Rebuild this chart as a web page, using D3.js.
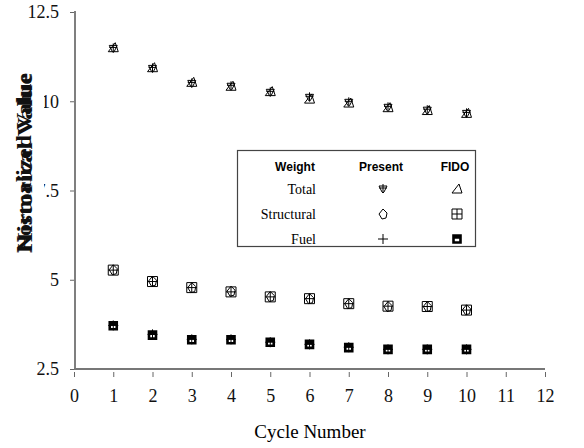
<!DOCTYPE html>
<html>
<head>
<meta charset="utf-8">
<script src="https://cdn.jsdelivr.net/npm/d3@7"></script>
<style>
body { margin: 0; background: #fff; }
svg { display: block; }
</style>
</head>
<body>
<svg></svg>
<script>
// data
const cycles = [1, 2, 3, 4, 5, 6, 7, 8, 9, 10]
const totalPresent = [11.48, 10.92, 10.5, 10.42, 10.25, 10.11, 9.97, 9.83, 9.75, 9.66]
const totalFido = [11.5, 10.94, 10.53, 10.42, 10.27, 10.06, 9.95, 9.82, 9.74, 9.66]
const structPresent = [5.28, 4.96, 4.78, 4.68, 4.53, 4.47, 4.33, 4.25, 4.25, 4.16]
const structFido = [5.27, 4.95, 4.78, 4.66, 4.52, 4.47, 4.33, 4.26, 4.25, 4.15]
const fuelPresent = [3.72, 3.47, 3.33, 3.33, 3.25, 3.19, 3.11, 3.05, 3.05, 3.05]
const fuelFido = [3.71, 3.45, 3.32, 3.32, 3.25, 3.19, 3.1, 3.05, 3.05, 3.05]
const xTicks = [0, 1, 2, 3, 4, 5, 6, 7, 8, 9, 10, 11, 12]
const yTicks = [2.5, 5, 7.5, 10, 12.5]

const svg = d3.select("svg")
	.attr("width", 584)
	.attr("height", 448)

const scaleX = d3.scaleLinear()
	.domain([0, 12])
	.range([74, 545])

const scaleY = d3.scaleLinear()
	.domain([2.5, 12.5])
	.range([369, 12])

// marker shapes
const shapes = {
	presTotal: "M-4,-3L4,-3L1,3L0,4L-1,3Z M0,-5V4 M-4,-1H4",
	presStruct: "M0,-5L4,-1L3,4L-1,5L-4,0Z",
	presFuel: "M-5,0H5M0,-5V5",
	fidoTotal: "M2,-5L5,4L-5,4Z",
	fidoStruct: "M-5,-5H5V5H-5Z M0,-5V5 M-5,0H5",
	fidoFuel: "M-3.5,-3.5H-1V-1.5H1V-3.5H3.5V3.5H-3.5Z"
}
const widths = { presTotal: 1, presStruct: 1, presFuel: 1, fidoTotal: 1, fidoStruct: 1, fidoFuel: 2.6 }

const series = [
	{ key: "presTotal", values: totalPresent },
	{ key: "fidoTotal", values: totalFido },
	{ key: "presStruct", values: structPresent },
	{ key: "fidoStruct", values: structFido },
	{ key: "presFuel", values: fuelPresent },
	{ key: "fidoFuel", values: fuelFido }
]

// axes
const yAxis = svg.append("g")
	.attr("transform", "translate(75,0)")
	.call(d3.axisLeft(scaleY).tickValues(yTicks).tickSize(6).tickPadding(10)
		.tickFormat(d => d3.format("")(d)))
yAxis.select(".domain").attr("stroke", "#555").attr("stroke-width", 1.5)
	.attr("d", "M0,11V370")
yAxis.selectAll(".tick line").attr("stroke", "#666").attr("x2", -5).attr("x1", -1)
yAxis.selectAll(".tick text")
	.attr("font-family", "Liberation Serif, serif")
	.attr("font-size", 18)
	.attr("fill", "#111")

const xAxis = svg.append("g")
	.attr("transform", "translate(0,369)")
	.call(d3.axisBottom(scaleX).tickValues(xTicks).tickSize(8).tickPadding(12))
xAxis.select(".domain").attr("stroke", "#777").attr("stroke-width", 2)
	.attr("d", "M74,0H545")
xAxis.selectAll(".tick line").attr("stroke", "#666").attr("y1", 3).attr("y2", 8)
xAxis.selectAll(".tick text")
	.attr("font-family", "Liberation Serif, serif")
	.attr("font-size", 18)
	.attr("fill", "#111")

svg.append("text")
	.attr("x", 310)
	.attr("y", 438)
	.attr("text-anchor", "middle")
	.attr("font-family", "Liberation Serif, serif")
	.attr("font-size", 19)
	.text("Cycle Number")

// y title: two labels printed on top of each other, on a white strip
svg.append("rect")
	.attr("x", 10).attr("y", 70)
	.attr("width", 34).attr("height", 186)
	.attr("fill", "#fff")
const yTitles = ["Normalized Value", "Historical Value"]
svg.selectAll("text.ytitle")
	.data(yTitles)
	.enter()
	.append("text")
	.attr("class", "ytitle")
	.attr("transform", (d, i) => `translate(${31 + i},${163}) rotate(-90)`)
	.attr("text-anchor", "middle")
	.attr("textLength", 180)
	.attr("lengthAdjust", "spacingAndGlyphs")
	.attr("font-family", "Liberation Serif, serif")
	.attr("font-weight", "bold")
	.attr("font-size", 20)
	.attr("fill", "#111")
	.text(d => d)

// points
series.forEach(s => {
	svg.selectAll("path." + s.key)
		.data(s.values)
		.enter()
		.append("path")
		.attr("class", s.key)
		.attr("transform", (d, i) => `translate(${scaleX(cycles[i])},${scaleY(d)})`)
		.attr("d", shapes[s.key])
		.attr("fill", "none")
		.attr("stroke", "#000")
		.attr("stroke-width", widths[s.key])
})

// legend table
const legend = svg.append("g")
legend.append("rect")
	.attr("x", 237.5).attr("y", 150.5)
	.attr("width", 238).attr("height", 96)
	.attr("fill", "#fff")
	.attr("stroke", "#444")
	.attr("stroke-width", 1.2)

const headers = [["Weight", 295], ["Present", 381], ["FIDO", 455]]
legend.selectAll("text.head")
	.data(headers)
	.enter()
	.append("text")
	.attr("class", "head")
	.attr("x", d => d[1]).attr("y", 171)
	.attr("text-anchor", "middle")
	.attr("font-family", "Liberation Sans, Arial, sans-serif")
	.attr("font-weight", "bold")
	.attr("font-size", 12)
	.text(d => d[0])

const rows = [
	["Total", "presTotal", "fidoTotal"],
	["Structural", "presStruct", "fidoStruct"],
	["Fuel", "presFuel", "fidoFuel"]
]
rows.forEach((r, i) => {
	const y = 189 + i * 25
	legend.append("text")
		.attr("x", 316).attr("y", y + 5)
		.attr("text-anchor", "end")
		.attr("font-family", "Liberation Serif, serif")
		.attr("font-size", 14)
		.text(r[0])
	legend.append("path")
		.attr("transform", `translate(383,${y})`)
		.attr("d", shapes[r[1]])
		.attr("fill", "none").attr("stroke", "#000")
		.attr("stroke-width", widths[r[1]])
	legend.append("path")
		.attr("transform", `translate(457,${y})`)
		.attr("d", shapes[r[2]])
		.attr("fill", "none").attr("stroke", "#000")
		.attr("stroke-width", widths[r[2]])
})
</script>
</body>
</html>
